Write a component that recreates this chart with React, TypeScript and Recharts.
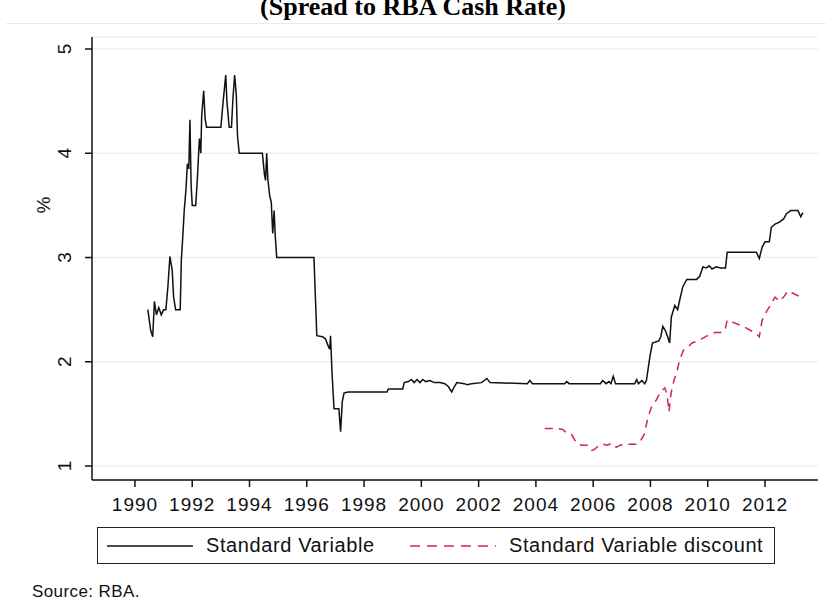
import React from 'react';
import { LineChart, Line, XAxis, YAxis, CartesianGrid, Legend } from 'recharts';

// Standard variable housing rate, spread to cash rate (% points)
const svDates = [
  1990.45, 1990.55, 1990.62, 1990.68, 1990.75, 1990.83, 1990.92, 1991.0, 1991.08, 1991.15,
  1991.22, 1991.3, 1991.35, 1991.42, 1991.58, 1991.62, 1991.67, 1991.72, 1991.78, 1991.83,
  1991.88, 1991.92, 1991.96, 1992.0, 1992.12, 1992.17, 1992.25, 1992.3, 1992.33, 1992.4,
  1992.45, 1992.5, 1993.0, 1993.08, 1993.17, 1993.21, 1993.29, 1993.37, 1993.42, 1993.48,
  1993.54, 1993.58, 1993.64, 1994.45, 1994.52, 1994.56, 1994.6, 1994.64, 1994.7, 1994.76,
  1994.81, 1994.86, 1994.9, 1994.95, 1996.25, 1996.3, 1996.35, 1996.55, 1996.65, 1996.75,
  1996.8, 1996.83, 1996.88, 1996.95, 1997.12, 1997.18, 1997.24, 1997.3, 1997.43, 1998.8,
  1998.85, 1999.35, 1999.4, 1999.55, 1999.65, 1999.75, 1999.85, 1999.95, 2000.05, 2000.15,
  2000.3, 2000.45, 2000.65, 2000.82, 2000.95, 2001.06, 2001.15, 2001.24, 2001.5, 2001.6,
  2001.75, 2002.1, 2002.29, 2002.4, 2003.7, 2003.79, 2003.88, 2005.0, 2005.08, 2005.16,
  2006.25, 2006.33, 2006.45, 2006.55, 2006.62, 2006.7, 2006.78, 2007.45, 2007.52, 2007.58,
  2007.7, 2007.8, 2007.86, 2007.98, 2008.07, 2008.29, 2008.36, 2008.43, 2008.52, 2008.6,
  2008.67, 2008.73, 2008.85, 2008.95, 2009.02, 2009.13, 2009.27, 2009.45, 2009.61, 2009.72,
  2009.83, 2009.95, 2010.05, 2010.15, 2010.3, 2010.45, 2010.62, 2010.68, 2011.7, 2011.8,
  2011.9, 2012.0, 2012.15, 2012.22, 2012.35, 2012.5, 2012.65, 2012.75, 2012.9, 2013.15,
  2013.25, 2013.32,
];
const svRates = [
  2.5, 2.3, 2.24, 2.58, 2.45, 2.52, 2.45, 2.5, 2.5, 2.72,
  3.01, 2.88, 2.62, 2.5, 2.5, 2.98, 3.2, 3.45, 3.65, 3.9,
  3.85, 4.32, 3.7, 3.5, 3.5, 3.71, 4.14, 4.0, 4.36, 4.6,
  4.33, 4.25, 4.25, 4.5, 4.75, 4.5, 4.25, 4.25, 4.52, 4.75,
  4.55, 4.17, 4.0, 4.0, 3.8, 3.74, 4.0, 3.75, 3.6, 3.53,
  3.23, 3.45, 3.2, 3.0, 3.0, 2.62, 2.25, 2.24, 2.22, 2.15,
  2.12, 2.25, 1.9, 1.55, 1.55, 1.33, 1.62, 1.7, 1.71, 1.71,
  1.74, 1.74, 1.8, 1.81, 1.83, 1.8, 1.83, 1.8, 1.83, 1.81,
  1.82, 1.8, 1.8, 1.79, 1.76, 1.71, 1.76, 1.8, 1.79, 1.78,
  1.79, 1.8, 1.84, 1.8, 1.79, 1.82, 1.79, 1.79, 1.81, 1.79,
  1.79, 1.82, 1.79, 1.81, 1.79, 1.86, 1.79, 1.79, 1.83, 1.79,
  1.82, 1.79, 1.82, 2.05, 2.18, 2.2, 2.24, 2.34, 2.3, 2.24,
  2.18, 2.43, 2.54, 2.5, 2.59, 2.72, 2.79, 2.79, 2.79, 2.82,
  2.91, 2.9, 2.92, 2.89, 2.91, 2.9, 2.9, 3.05, 3.05, 2.99,
  3.1, 3.15, 3.15, 3.29, 3.32, 3.34, 3.37, 3.42, 3.45, 3.45,
  3.39, 3.43,
];

// Standard variable discount rate, spread to cash rate (% points)
const discDates = [
  2004.31, 2004.75, 2004.94, 2005.1, 2005.25, 2005.42, 2005.6, 2005.8, 2005.95, 2006.05,
  2006.2, 2006.35, 2006.5, 2006.65, 2006.8, 2006.95, 2007.15, 2007.4, 2007.55, 2007.65,
  2007.78, 2007.9, 2008.05, 2008.2, 2008.35, 2008.5, 2008.58, 2008.65, 2008.72, 2008.82,
  2008.92, 2009.02, 2009.15, 2009.3, 2009.45, 2009.65, 2009.85, 2010.05, 2010.25, 2010.45,
  2010.6, 2010.68, 2010.85, 2011.05, 2011.3, 2011.5, 2011.7, 2011.8, 2011.9, 2012.05,
  2012.2, 2012.35, 2012.5, 2012.65, 2012.8, 2012.95, 2013.1, 2013.25,
];
const discRates = [
  1.36, 1.36, 1.35, 1.31, 1.3, 1.22, 1.2, 1.2, 1.15, 1.16,
  1.2, 1.21, 1.2, 1.22, 1.18, 1.2, 1.21, 1.21, 1.21, 1.24,
  1.3, 1.45, 1.58, 1.63, 1.71, 1.75, 1.68, 1.52, 1.7, 1.82,
  1.9, 2.02, 2.11, 2.14, 2.18, 2.2, 2.23, 2.26, 2.28, 2.28,
  2.3, 2.4, 2.38, 2.36, 2.33, 2.3, 2.27, 2.24, 2.4, 2.48,
  2.55, 2.62, 2.58, 2.62, 2.68, 2.66, 2.64, 2.62,
];

const yearTicks = [1990, 1992, 1994, 1996, 1998, 2000, 2002, 2004, 2006, 2008, 2010, 2012];
const rateTicks = [1, 2, 3, 4, 5];

const svData = svDates.map((date, i) => ({ date, rate: svRates[i] }));
const discData = discDates.map((date, i) => ({ date, rate: discRates[i] }));

const SANS = '"Liberation Sans", Arial, sans-serif';
const RED = '#d0284f';

/* rotated y tick labels, like stata */
function RateTick({ x, y, payload }: any) {
  return (
    <text
      x={x}
      y={y}
      transform={`rotate(-90, ${x}, ${y})`}
      textAnchor="middle"
      dominantBaseline="central"
      fontFamily={SANS}
      fontSize={19}
      fill="#111"
    >
      {payload.value}
    </text>
  );
}

function LegendBox() {
  return (
    <div
      style={{
        position: 'relative',
        width: 678,
        height: 37,
        border: '1.5px solid #222',
        boxSizing: 'border-box',
        fontFamily: SANS,
        fontSize: 20,
        letterSpacing: 0.6,
        color: '#111',
      }}
    >
      <svg width={678} height={37} style={{ position: 'absolute', left: 0, top: 0 }}>
        <line x1={9} x2={95} y1={18} y2={18} stroke="#111" strokeWidth={1.5} />
        <line x1={312} x2={398} y1={18} y2={18} stroke={RED} strokeWidth={1.5} strokeDasharray="10 7" />
      </svg>
      <span style={{ position: 'absolute', left: 108, top: 0, lineHeight: '34px' }}>Standard Variable</span>
      <span style={{ position: 'absolute', left: 411, top: 0, lineHeight: '34px' }}>
        Standard Variable discount
      </span>
    </div>
  );
}

export default function App() {
  return (
    <div style={{ position: 'absolute', left: 0, top: 0, width: 826, height: 608, background: '#fff', overflow: 'hidden' }}>
      {/* title, cut off at the top */}
      <div
        style={{
          position: 'absolute',
          left: 0,
          width: 826,
          top: -8,
          textAlign: 'center',
          fontFamily: '"Liberation Serif", "Times New Roman", serif',
          fontWeight: 'bold',
          fontSize: 26,
          lineHeight: '30px',
        }}
      >
        (Spread to RBA Cash Rate)
      </div>
      <div style={{ position: 'absolute', left: 6, top: 23, width: 820, height: 1, background: '#e4ecef' }} />

      <LineChart width={826} height={608} margin={{ top: 37, right: 8, left: 0, bottom: 0 }}>
        <CartesianGrid horizontal vertical={false} stroke="#e9f1f3" strokeWidth={1.5} />
        <XAxis
          dataKey="date"
          type="number"
          domain={[1988.5, 2013.85]}
          ticks={yearTicks}
          allowDataOverflow
          height={128}
          axisLine={{ stroke: '#111', strokeWidth: 1.5 }}
          tickLine={{ stroke: '#111', strokeWidth: 1.5 }}
          tickSize={7}
          tickMargin={11}
          tick={{ fill: '#111', fontSize: 19, fontFamily: SANS, letterSpacing: 1 }}
          interval={0}
        />
        <YAxis
          type="number"
          domain={[0.866, 5.115]}
          ticks={rateTicks}
          allowDataOverflow
          width={92}
          axisLine={{ stroke: '#111', strokeWidth: 1.5 }}
          tickLine={{ stroke: '#111', strokeWidth: 1.5 }}
          tickSize={7}
          tickMargin={20}
          tick={<RateTick />}
          interval={0}
          label={() => (
            <text
              x={43}
              y={205}
              transform="rotate(-90, 43, 205)"
              textAnchor="middle"
              dominantBaseline="central"
              fontFamily={SANS}
              fontSize={19}
              fill="#111"
            >
              %
            </text>
          )}
        />
        <Legend
          layout="horizontal"
          verticalAlign="middle"
          align="center"
          wrapperStyle={{ position: 'absolute', left: 97, top: 527, width: 678, height: 37 }}
          content={() => <LegendBox />}
        />
        <Line
          data={svData}
          dataKey="rate"
          name="Standard Variable"
          type="linear"
          stroke="#111"
          strokeWidth={1.5}
          dot={false}
          activeDot={false}
          isAnimationActive={false}
        />
        <Line
          data={discData}
          dataKey="rate"
          name="Standard Variable discount"
          type="linear"
          stroke={RED}
          strokeWidth={1.5}
          strokeDasharray="8 6"
          dot={false}
          activeDot={false}
          isAnimationActive={false}
        />
      </LineChart>

      <div
        style={{
          position: 'absolute',
          left: 32,
          top: 582,
          fontFamily: SANS,
          fontSize: 17,
          letterSpacing: 0.4,
          color: '#111',
        }}
      >
        Source: RBA.
      </div>
    </div>
  );
}
